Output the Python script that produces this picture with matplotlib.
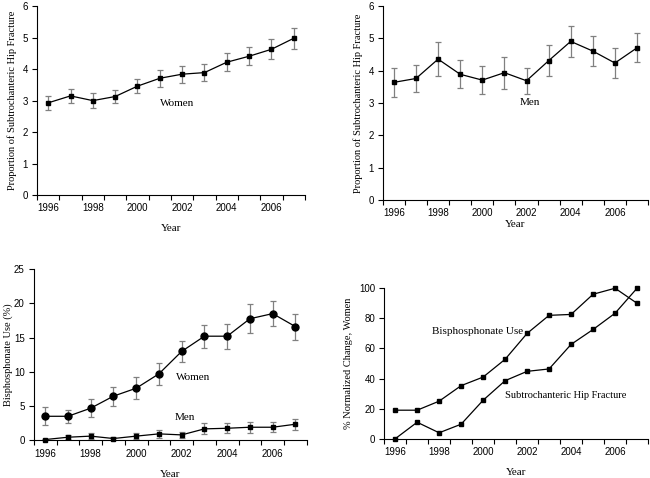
import numpy as np
import matplotlib
matplotlib.use("Agg")
import matplotlib.pyplot as plt

annees = [1996, 1997, 1998, 1999, 2000, 2001, 2002, 2003, 2004, 2005, 2006, 2007]
etiquettes = ["1996", "", "1998", "", "2000", "", "2002", "", "2004", "", "2006", ""]

# proportion de fractures sous-trochantériennes
femmes_prop = [2.93, 3.15, 3.0, 3.13, 3.46, 3.71, 3.84, 3.89, 4.22, 4.41, 4.63, 4.98]
femmes_prop_err = [0.22, 0.23, 0.23, 0.22, 0.23, 0.27, 0.27, 0.27, 0.29, 0.28, 0.32, 0.33]
hommes_prop = [3.64, 3.76, 4.36, 3.89, 3.71, 3.94, 3.69, 4.31, 4.91, 4.61, 4.24, 4.71]
hommes_prop_err = [0.45, 0.42, 0.53, 0.44, 0.44, 0.5, 0.41, 0.48, 0.49, 0.47, 0.45, 0.45]

# usage des bisphosphonates (%)
femmes_bis = [3.5, 3.5, 4.68, 6.44, 7.6, 9.7, 12.98, 15.2, 15.2, 17.75, 18.5, 16.6]
femmes_bis_err = [1.3, 0.95, 1.35, 1.4, 1.6, 1.6, 1.55, 1.7, 1.8, 2.1, 1.85, 1.9]
hommes_bis = [0.1, 0.44, 0.6, 0.25, 0.6, 0.93, 0.78, 1.66, 1.75, 1.9, 1.9, 2.34]
hommes_bis_err = [0.1, 0.28, 0.4, 0.2, 0.45, 0.55, 0.4, 0.8, 0.75, 0.78, 0.7, 0.8]

# variation normalisée, femmes
norm_bis = [19, 19, 25, 35.3, 41, 52.8, 70, 82, 82.6, 96, 100, 90]
norm_frac = [0, 11, 4, 9.7, 25.6, 38.6, 44.8, 46.4, 62.7, 72.6, 83.4, 100]

SERIF = "Liberation Serif"
SANS = "Liberation Sans"
GRIS = "#808080"

fig = plt.figure(figsize=(6.5, 4.78), dpi=100)


def prepare_axe(ax, ymax, pas, ylabel, ylab_pad=4, xlab_pad=8):
    x = np.arange(len(annees))
    ax.set_xlim(-0.5, len(annees) - 0.5)
    ax.set_xticks(x)
    ax.set_xticklabels(etiquettes, fontfamily=SANS, fontsize=7)
    ax.tick_params(axis="x", which="major", length=0, pad=6)
    ax.set_xticks(np.arange(-0.5, len(annees), 1), minor=True)
    ax.tick_params(axis="x", which="minor", length=3.5, direction="out", width=0.8)
    ax.set_ylim(0, ymax)
    ax.set_yticks(np.arange(0, ymax + pas / 2, pas))
    ax.tick_params(axis="y", length=3.5, direction="out", width=0.8, pad=3)
    for lab in ax.get_yticklabels():
        lab.set_fontfamily(SANS)
        lab.set_fontsize(7)
    for s in ["top", "right"]:
        ax.spines[s].set_visible(False)
    for s in ["left", "bottom"]:
        ax.spines[s].set_linewidth(0.8)
    ax.set_xlabel("Year", fontfamily=SERIF, fontsize=8, labelpad=xlab_pad)
    ax.set_ylabel(ylabel, fontfamily=SERIF, fontsize=7.5, labelpad=ylab_pad)
    return x


def trace(ax, x, y, err, marker, ms):
    ax.errorbar(x, y, yerr=err, fmt="none", ecolor=GRIS, elinewidth=0.9,
                capsize=2.5, capthick=0.9, clip_on=False)
    ax.plot(x, y, color="black", lw=0.9, marker=marker, ms=ms, clip_on=False)


# haut gauche : femmes
ax1 = fig.add_axes([0.057, 0.592, 0.412, 0.395])
x = prepare_axe(ax1, 6, 1, "Proportion of Subtrochanteric Hip Fracture")
trace(ax1, x, femmes_prop, femmes_prop_err, "s", 3)
ax1.text(5.77, 2.92, "Women", fontfamily=SERIF, fontsize=8, ha="center", va="center")

# haut droite : hommes
ax2 = fig.add_axes([0.589, 0.582, 0.408, 0.405])
x = prepare_axe(ax2, 6, 1, "Proportion of Subtrochanteric Hip Fracture", xlab_pad=1)
trace(ax2, x, hommes_prop, hommes_prop_err, "s", 3)
ax2.text(6.16, 3.03, "Men", fontfamily=SERIF, fontsize=8, ha="center", va="center")

# bas gauche : bisphosphonates
ax3 = fig.add_axes([0.052, 0.079, 0.420, 0.358])
x = prepare_axe(ax3, 25, 5, "Bisphosphonate Use (%)", ylab_pad=1)
trace(ax3, x, femmes_bis, femmes_bis_err, "o", 5)
trace(ax3, x, hommes_bis, hommes_bis_err, "s", 3.5)
ax3.text(6.49, 9.2, "Women", fontfamily=SERIF, fontsize=8, ha="center", va="center")
ax3.text(6.14, 3.36, "Men", fontfamily=SERIF, fontsize=8, ha="center", va="center")

# bas droite : variation normalisée
ax4 = fig.add_axes([0.591, 0.082, 0.406, 0.315])
x = prepare_axe(ax4, 100, 20, "% Normalized Change, Women")
ax4.plot(x, norm_bis, color="black", lw=0.9, marker="s", ms=2.5, clip_on=False)
ax4.plot(x, norm_frac, color="black", lw=0.9, marker="s", ms=2.5, clip_on=False)
ax4.text(3.73, 71, "Bisphosphonate Use", fontfamily=SERIF, fontsize=8, ha="center", va="center")
ax4.text(5.0, 29, "Subtrochanteric Hip Fracture", fontfamily=SERIF, fontsize=7.5,
         ha="left", va="center")

fig.savefig("out.png", dpi=100)
